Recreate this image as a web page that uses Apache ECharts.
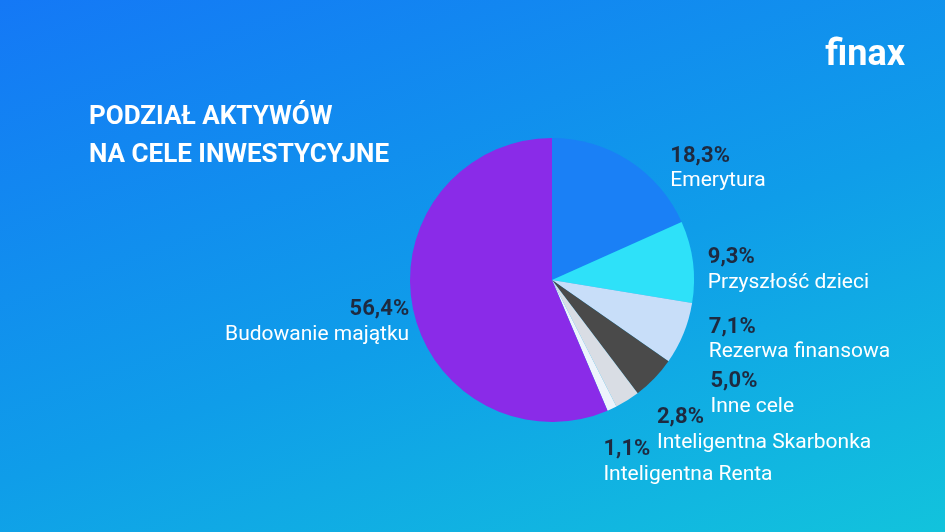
<!DOCTYPE html>
<html><head><meta charset="utf-8">
<script src="https://cdn.jsdelivr.net/npm/echarts@6/dist/echarts.min.js"></script>
<style>html,body{margin:0;padding:0}#c{width:945px;height:532px;background:linear-gradient(160deg,#1478f6 0%,#0f9de9 55%,#12c3dc 100%)}</style>
</head><body><div id="c"></div>
<script>
const categories=["Emerytura","Przyszłość dzieci","Rezerwa finansowa","Inne cele","Inteligentna Skarbonka","Inteligentna Renta","Budowanie majątku"];
const values=[18.3,9.3,7.1,5.0,2.8,1.1,56.4];
const colors=["#1a80f6","#2ee1f9","#c8def9","#4a4a4a","#d9dde4","#eef4fb","#8a2be8"];
const shifts=[[-2,20],[-30,10],[-25,0],[-10,5],[-40,-8],[-50,-24],[46,10]];
const chart=echarts.init(document.getElementById('c'));
chart.setOption({
 title:{text:"PODZIAŁ AKTYWÓW\nNA CELE INWESTYCYJNE",left:84,top:93,textStyle:{color:"#fff",fontFamily:"Roboto",fontWeight:"bold",fontSize:26,lineHeight:38}},
 graphic:[{type:"text",right:40,top:38,style:{text:"finax",fill:"#fff",font:"bold 36px Roboto"}}],
 series:[{type:"pie",center:[552,280],radius:[0,142],startAngle:90,clockwise:true,animation:false,
  data:categories.map((n,i)=>({name:n,value:values[i],itemStyle:{color:colors[i]}})),
  labelLine:{show:false},
  label:{show:true,position:"outside",distance:8,alignTo:"none",
   formatter:p=>"{p|"+p.value.toFixed(1).replace('.',',')+"%}\n{n|"+p.name+"}",
   rich:{p:{color:"#1e2a40",fontFamily:"Roboto",fontWeight:"bold",fontSize:22,lineHeight:26},
         n:{color:"#fff",fontFamily:"Roboto",fontSize:21,lineHeight:24}}},
  labelLayout:p=>({hideOverlap:false,dx:shifts[p.dataIndex][0],dy:shifts[p.dataIndex][1]})
 }]
});
</script></body></html>
